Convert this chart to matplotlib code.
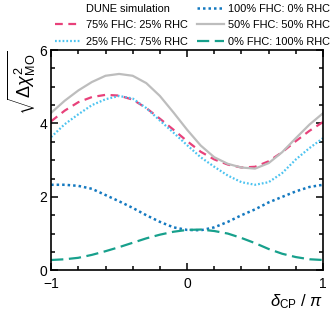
import numpy as np
import matplotlib
matplotlib.use("Agg")
import matplotlib.pyplot as plt
from matplotlib.lines import Line2D
from matplotlib.ticker import MultipleLocator

plt.rcParams['font.family'] = ['Liberation Sans', 'DejaVu Sans']
plt.rcParams['mathtext.fontset'] = 'custom'
plt.rcParams['mathtext.rm'] = 'Liberation Sans'
plt.rcParams['mathtext.it'] = 'Liberation Sans:italic'

# delta_CP / pi
dcp = [-1.0, -0.9, -0.8, -0.7, -0.6, -0.5, -0.4, -0.3, -0.2, -0.1, 0.0,
       0.1, 0.2, 0.3, 0.4, 0.5, 0.6, 0.7, 0.8, 0.9, 1.0]

# sqrt(delta chi^2) for each FHC:RHC split
fhc75 = [4.06, 4.35, 4.58, 4.72, 4.78, 4.76, 4.65, 4.42, 4.13, 3.83, 3.52,
         3.23, 3.02, 2.88, 2.80, 2.82, 2.97, 3.22, 3.52, 3.80, 4.04]
fhc25 = [3.63, 3.98, 4.25, 4.50, 4.66, 4.75, 4.68, 4.42, 4.08, 3.75, 3.41,
         3.08, 2.82, 2.58, 2.40, 2.33, 2.40, 2.65, 3.02, 3.33, 3.60]
fhc100 = [2.33, 2.33, 2.30, 2.22, 2.05, 1.88, 1.70, 1.50, 1.32, 1.17, 1.10,
          1.09, 1.17, 1.32, 1.50, 1.66, 1.85, 2.00, 2.15, 2.27, 2.33]
fhc50 = [4.29, 4.62, 4.90, 5.13, 5.30, 5.35, 5.30, 5.10, 4.75, 4.30, 3.83,
         3.40, 3.08, 2.90, 2.80, 2.77, 2.92, 3.22, 3.60, 3.97, 4.28]
fhc0 = [0.28, 0.30, 0.34, 0.42, 0.52, 0.63, 0.75, 0.87, 0.97, 1.05, 1.10,
        1.11, 1.07, 1.00, 0.88, 0.74, 0.58, 0.45, 0.36, 0.30, 0.28]

fig = plt.figure(figsize=(3.32, 3.21), dpi=100)
ax = fig.add_axes([0.154, 0.158, 0.819, 0.686])

l75, = ax.plot(dcp, fhc75, color='#e8417a', lw=1.6, ls=(0, (3.5, 2.5)))
l25, = ax.plot(dcp, fhc25, color='#4cc3f0', lw=1.6, ls=(0, (0.8, 0.9)))
l100, = ax.plot(dcp, fhc100, color='#1479c0', lw=1.8, ls=(0, (1, 1.2)))
l50, = ax.plot(dcp, fhc50, color='#bdbdbd', lw=1.6, ls='-')
l0, = ax.plot(dcp, fhc0, color='#17a08c', lw=1.6, ls=(0, (5.5, 2.5)))

ax.set_xlim(-1, 1)
ax.set_ylim(0, 6)
ax.set_xticks([-1, 0, 1])
ax.set_xticklabels(['\u22121', '0', '1'])
ax.set_yticks([0, 2, 4, 6])
ax.xaxis.set_minor_locator(MultipleLocator(0.2))
ax.yaxis.set_minor_locator(MultipleLocator(0.5))
ax.tick_params(which='both', direction='in', top=True, right=True, labelsize=10, width=1.1)
ax.tick_params(which='major', length=5)
ax.tick_params(axis='x', which='major', pad=5)
ax.tick_params(axis='y', which='major', pad=3)
ax.tick_params(which='minor', length=3)
for s in ax.spines.values():
    s.set_linewidth(1.2)

ax.set_xlabel(r'$\delta_{\rm CP}$ / $\pi$', fontsize=12, loc='right', labelpad=1)
ax.set_ylabel(r'$\sqrt{\Delta\chi^2_{\rm MO}}$', fontsize=13, loc='top', labelpad=1)

blank = Line2D([], [], color='none')
fig.legend([blank, l75, l25, l100, l50, l0],
           ['DUNE simulation', '75% FHC: 25% RHC', '25% FHC: 75% RHC',
            '100% FHC: 0% RHC', '50% FHC: 50% RHC', '0% FHC: 100% RHC'],
           ncol=2, frameon=False, fontsize=7.9, loc='upper left',
           bbox_to_anchor=(0.165, 0.988), handlelength=2.4, handletextpad=0.4,
           columnspacing=0.9, labelspacing=0.58, borderaxespad=0,
           borderpad=0)

fig.savefig('out.png', dpi=100)
